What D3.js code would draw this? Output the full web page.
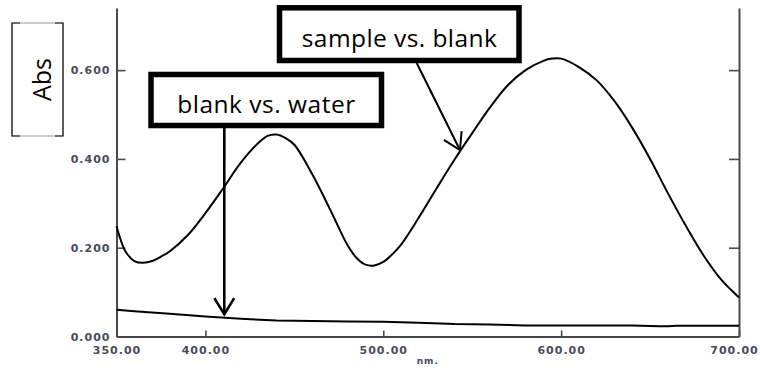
<!DOCTYPE html>
<html>
<head>
<meta charset="utf-8">
<script src="https://cdn.jsdelivr.net/npm/d3@7"></script>
<style>
  html, body { margin: 0; padding: 0; background: #fff; }
  svg { display: block; }
</style>
</head>
<body>
<div id="chart"></div>
<script>
// sample vs. blank spectrum
const sampleWl = [350, 352, 355, 360, 365, 370, 375, 380, 390, 400, 410, 420, 430, 435, 440, 445, 450,
  460, 470, 480, 485, 490, 495, 500, 505, 510, 520, 530, 540, 550, 560, 570, 580, 590, 595, 600,
  610, 620, 630, 640, 650, 660, 670, 680, 690, 700];
const sampleAbs = [0.249, 0.222, 0.192, 0.170, 0.166, 0.170, 0.180, 0.192, 0.228, 0.278, 0.334, 0.392, 0.437, 0.452, 0.455, 0.447, 0.432,
  0.366, 0.287, 0.205, 0.177, 0.162, 0.160, 0.168, 0.185, 0.207, 0.268, 0.334, 0.398, 0.458, 0.516, 0.566, 0.600, 0.621, 0.626, 0.626,
  0.607, 0.577, 0.530, 0.470, 0.400, 0.323, 0.250, 0.183, 0.128, 0.088];

// blank vs. water baseline
const blankWl = [350, 360, 380, 400, 420, 440, 460, 480, 500, 520, 540, 560, 580, 600, 620, 640, 655, 660, 665, 680, 700];
const blankAbs = [0.060, 0.057, 0.051, 0.045, 0.040, 0.036, 0.035, 0.034, 0.033, 0.031, 0.028, 0.027, 0.025, 0.025, 0.025, 0.025, 0.023, 0.023, 0.024, 0.024, 0.024];

const xTicks = [350, 400, 500, 600, 700];
const yTicks = [0, 0.2, 0.4, 0.6];

const width = 760, height = 371;

const svg = d3.select('#chart').append('svg')
    .attr('width', width)
    .attr('height', height);

const x = d3.scaleLinear().domain([350, 700]).range([116.5, 739]);
const y = d3.scaleLinear().domain([0, 0.74]).range([336.5, 8]);

const axisColor = '#4a4a4a';
const labelColor = '#4a4a5e';

// axes
const styleAxis = g => {
    g.select('.domain').attr('stroke', axisColor).attr('stroke-width', 2);
    g.selectAll('.tick line').attr('stroke', axisColor).attr('stroke-width', 1.6);
    g.selectAll('.tick text')
        .attr('fill', labelColor)
        .style('font-family', '"DejaVu Sans", sans-serif')
        .style('font-weight', 'bold')
        .style('font-size', '11px')
        .style('letter-spacing', '1px');
};

svg.append('g')
    .attr('transform', `translate(${x(350)},0)`)
    .call(d3.axisLeft(y).tickValues(yTicks).tickSize(-9).tickSizeOuter(0).tickPadding(6)
        .tickFormat(d3.format('.3f')))
    .call(styleAxis);

svg.append('g')
    .attr('transform', `translate(${x(700)},0)`)
    .call(d3.axisRight(y).tickValues(yTicks.slice(1)).tickSize(-10).tickSizeOuter(0).tickFormat(''))
    .call(styleAxis);

const xAxis = svg.append('g')
    .attr('transform', `translate(0,${y(0)})`)
    .call(d3.axisBottom(x).tickValues(xTicks).tickSize(-6).tickSizeOuter(0).tickPadding(10)
        .tickFormat(d3.format('.2f')))
    .call(styleAxis);
// keep the last label inside the window
xAxis.selectAll('.tick text').filter(d => d === 700).attr('x', -5);

svg.append('text')
    .attr('x', (x(350) + x(700)) / 2)
    .attr('y', 364)
    .attr('text-anchor', 'middle')
    .attr('fill', labelColor)
    .style('font-family', '"DejaVu Sans", sans-serif')
    .style('font-weight', 'bold')
    .style('font-size', '9px')
    .style('letter-spacing', '1px')
    .text('nm.');

// Abs label box
const absBox = { x0: 12, x1: 63, y0: 23, y1: 136 };
svg.append('rect')
    .attr('x', absBox.x0).attr('y', absBox.y0)
    .attr('width', absBox.x1 - absBox.x0).attr('height', absBox.y1 - absBox.y0)
    .attr('fill', 'none').attr('stroke', '#9a9a9a').attr('stroke-width', 1);
const corner = 8;
svg.append('path')
    .attr('d', `M${absBox.x0 + corner},${absBox.y0}H${absBox.x0}V${absBox.y1}H${absBox.x0 + corner}` +
        `M${absBox.x1 - corner},${absBox.y0}H${absBox.x1}V${absBox.y1}H${absBox.x1 - corner}`)
    .attr('fill', 'none').attr('stroke', '#111').attr('stroke-width', 1.2);
svg.append('text')
    .attr('transform', `translate(51,${(absBox.y0 + absBox.y1) / 2}) rotate(-90)`)
    .attr('text-anchor', 'middle')
    .attr('fill', '#000')
    .style('font-family', '"Open Sans", sans-serif')
    .style('font-size', '25px')
    .text('Abs');

// curves
const line = d3.line()
    .x(d => x(d[0]))
    .y(d => y(d[1]))
    .curve(d3.curveCatmullRom.alpha(0.5));

svg.append('path')
    .datum(d3.zip(sampleWl, sampleAbs))
    .attr('d', line)
    .attr('fill', 'none')
    .attr('stroke', '#000')
    .attr('stroke-width', 2);

svg.append('path')
    .datum(d3.zip(blankWl, blankAbs))
    .attr('d', d3.line().x(d => x(d[0])).y(d => y(d[1])))
    .attr('fill', 'none')
    .attr('stroke', '#000')
    .attr('stroke-width', 2);

// annotation boxes with arrows
const notes = [
    { text: 'sample vs. blank', box: [279.5, 7.8, 239.5, 52.7], textLen: 195, baseline: 46.7,
      from: [416.7, 63], tip: [543.1, 0.42], width: 2 },
    { text: 'blank vs. water', box: [151, 74.5, 230.5, 51], textLen: 178, baseline: 113.3,
      from: [224.3, 128], tip: [410.6, 0.05], width: 2.6 }
];

notes.forEach(n => {
    const tx = x(n.tip[0]), ty = y(n.tip[1]);
    const [fx, fy] = n.from;
    svg.append('line')
        .attr('x1', fx).attr('y1', fy).attr('x2', tx).attr('y2', ty)
        .attr('stroke', '#000').attr('stroke-width', n.width);
    // arrow head
    const ang = Math.atan2(ty - fy, tx - fx);
    const len = 19, spread = 0.55;
    const p1 = [tx - len * Math.cos(ang - spread), ty - len * Math.sin(ang - spread)];
    const p2 = [tx - len * Math.cos(ang + spread), ty - len * Math.sin(ang + spread)];
    svg.append('path')
        .attr('d', `M${p1[0]},${p1[1]}L${tx},${ty}L${p2[0]},${p2[1]}`)
        .attr('fill', 'none').attr('stroke', '#000').attr('stroke-width', n.width);

    svg.append('rect')
        .attr('x', n.box[0]).attr('y', n.box[1])
        .attr('width', n.box[2]).attr('height', n.box[3])
        .attr('fill', '#fff').attr('stroke', '#000').attr('stroke-width', 5.5);
    svg.append('text')
        .attr('x', n.box[0] + n.box[2] / 2)
        .attr('y', n.baseline)
        .attr('text-anchor', 'middle')
        .attr('textLength', n.textLen)
        .attr('lengthAdjust', 'spacing')
        .attr('fill', '#000')
        .style('font-family', '"Open Sans", sans-serif')
        .style('font-size', '24.5px')
        .text(n.text);
});
</script>
</body>
</html>
